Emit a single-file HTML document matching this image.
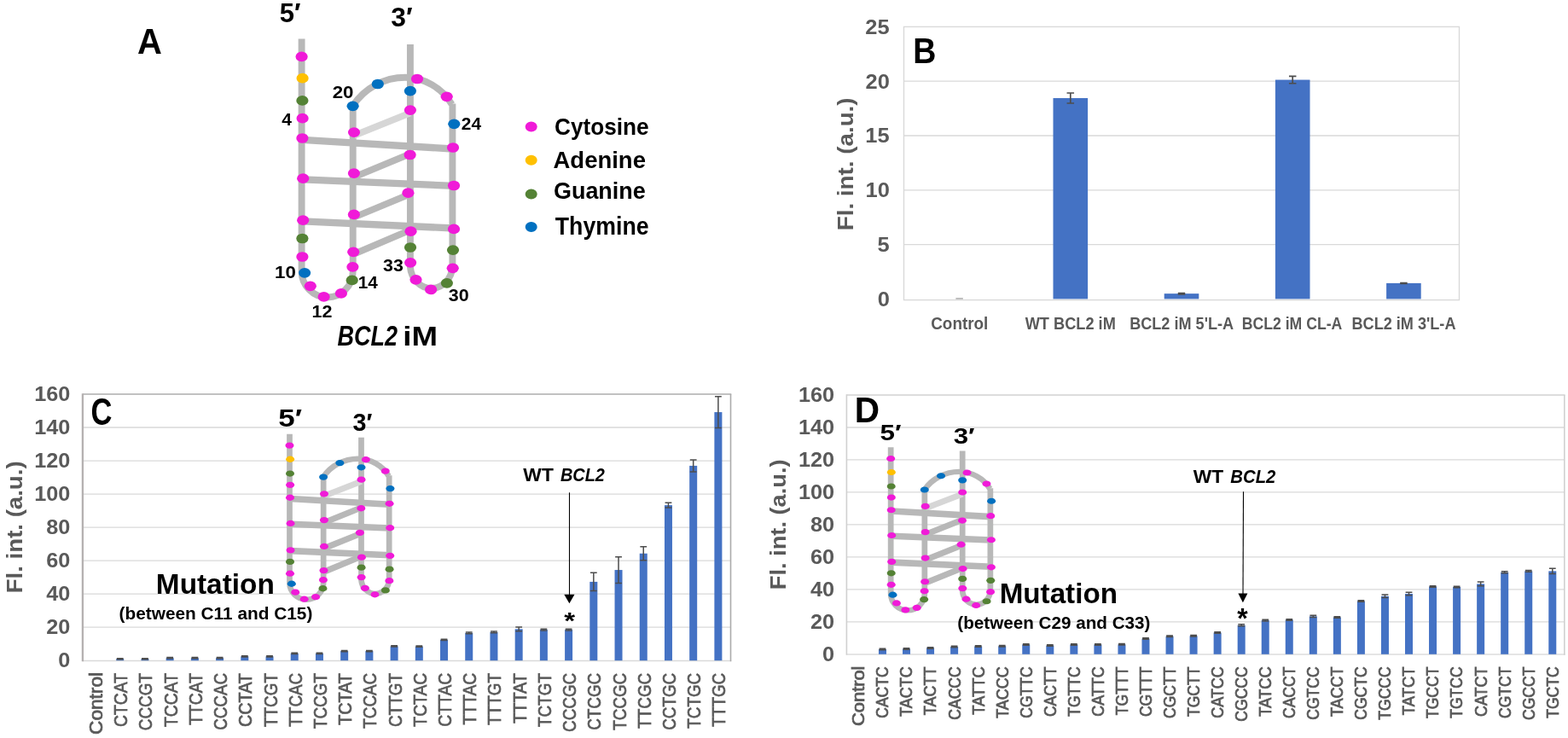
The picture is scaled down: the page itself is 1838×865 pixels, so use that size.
<!DOCTYPE html>
<html><head><meta charset="utf-8"><title>BCL2 iM figure</title>
<style>
html,body{margin:0;padding:0;background:#fff;overflow:hidden}
svg{display:block}
text{font-family:"Liberation Sans", Arial, sans-serif}
</style></head><body>
<svg width="1838" height="865" viewBox="0 0 1838 865">
<rect width="1838" height="865" fill="#fff"/>
<g transform="translate(0 0)"><path d="M 353.6 45.5 L 353.6 318 A 30 30.5 0 0 0 413.7 318 L 413.7 124.5 L 413.3 124.5 A 73.3 73.3 0 0 1 475 90.8 A 63.95 63.95 0 0 1 529.6 122.3" fill="none" stroke="#B8B8B8" stroke-width="7.9" stroke-linejoin="round"/><path d="M 530.4 121.5 L 530.4 313 A 24.85 27.5 0 0 1 480.9 313 L 480.9 52" fill="none" stroke="#B8B8B8" stroke-width="7.9"/><line x1="415" y1="158.9" x2="480.9" y2="132.4" stroke="#D6D6D6" stroke-width="7.719000000000001"/><line x1="354.4" y1="163.9" x2="530.6" y2="174.5" stroke="#B8B8B8" stroke-width="8.3"/><line x1="355.2" y1="210.4" x2="532" y2="217.9" stroke="#B8B8B8" stroke-width="8.3"/><line x1="355.2" y1="259.4" x2="532" y2="267.5" stroke="#B8B8B8" stroke-width="8.3"/><line x1="414.9" y1="207.6" x2="480.6" y2="180.4" stroke="#B8B8B8" stroke-width="7.719000000000001"/><line x1="414.9" y1="254.7" x2="478.4" y2="228.4" stroke="#B8B8B8" stroke-width="7.719000000000001"/><line x1="414" y1="298.1" x2="481.5" y2="269.4" stroke="#B8B8B8" stroke-width="7.719000000000001"/><ellipse cx="353.6" cy="66.4" rx="7.1" ry="5.85" fill="#F01AD8"/><ellipse cx="354.6" cy="91.7" rx="7.1" ry="5.85" fill="#FFC000"/><ellipse cx="354.4" cy="117.9" rx="7.1" ry="5.85" fill="#548235"/><ellipse cx="354.6" cy="138.7" rx="7.1" ry="5.85" fill="#F01AD8"/><ellipse cx="354.4" cy="162" rx="7.1" ry="5.85" fill="#F01AD8"/><ellipse cx="355.2" cy="209.2" rx="7.1" ry="5.85" fill="#F01AD8"/><ellipse cx="355.2" cy="258.2" rx="7.1" ry="5.85" fill="#F01AD8"/><ellipse cx="354.4" cy="279.5" rx="7.1" ry="5.85" fill="#548235"/><ellipse cx="354.4" cy="301" rx="7.1" ry="5.85" fill="#F01AD8"/><ellipse cx="357.1" cy="319.8" rx="7.1" ry="5.85" fill="#0070C0"/><ellipse cx="363.8" cy="335.3" rx="7.1" ry="5.85" fill="#F01AD8"/><ellipse cx="379.6" cy="347.9" rx="7.1" ry="5.85" fill="#F01AD8"/><ellipse cx="399.9" cy="343.9" rx="7.1" ry="5.85" fill="#F01AD8"/><ellipse cx="412.7" cy="328.4" rx="7.1" ry="5.85" fill="#548235"/><ellipse cx="413.4" cy="312.8" rx="7.1" ry="5.85" fill="#F01AD8"/><ellipse cx="414.2" cy="295.3" rx="7.1" ry="5.85" fill="#F01AD8"/><ellipse cx="414.9" cy="251.4" rx="7.1" ry="5.85" fill="#F01AD8"/><ellipse cx="414.9" cy="203.1" rx="7.1" ry="5.85" fill="#F01AD8"/><ellipse cx="415" cy="155.1" rx="7.1" ry="5.85" fill="#F01AD8"/><ellipse cx="413.6" cy="124.3" rx="7.1" ry="5.85" fill="#0070C0"/><ellipse cx="442.8" cy="98.5" rx="7.1" ry="5.85" fill="#0070C0"/><ellipse cx="489" cy="92.5" rx="7.1" ry="5.85" fill="#F01AD8"/><ellipse cx="523.7" cy="113.3" rx="7.1" ry="5.85" fill="#F01AD8"/><ellipse cx="532.3" cy="145.3" rx="7.1" ry="5.85" fill="#0070C0"/><ellipse cx="531" cy="173" rx="7.1" ry="5.85" fill="#F01AD8"/><ellipse cx="532" cy="217.5" rx="7.1" ry="5.85" fill="#F01AD8"/><ellipse cx="532" cy="268.4" rx="7.1" ry="5.85" fill="#F01AD8"/><ellipse cx="531" cy="293.1" rx="7.1" ry="5.85" fill="#548235"/><ellipse cx="530.7" cy="314.3" rx="7.1" ry="5.85" fill="#F01AD8"/><ellipse cx="523.9" cy="331.8" rx="7.1" ry="5.85" fill="#548235"/><ellipse cx="505.1" cy="339.4" rx="7.1" ry="5.85" fill="#F01AD8"/><ellipse cx="487.5" cy="327.8" rx="7.1" ry="5.85" fill="#F01AD8"/><ellipse cx="481.1" cy="307.8" rx="7.1" ry="5.85" fill="#F01AD8"/><ellipse cx="481" cy="290" rx="7.1" ry="5.85" fill="#548235"/><ellipse cx="481.5" cy="271.2" rx="7.1" ry="5.85" fill="#F01AD8"/><ellipse cx="478.4" cy="226.2" rx="7.1" ry="5.85" fill="#F01AD8"/><ellipse cx="480.6" cy="181.5" rx="7.1" ry="5.85" fill="#F01AD8"/><ellipse cx="480.9" cy="129.1" rx="7.1" ry="5.85" fill="#F01AD8"/><ellipse cx="480.9" cy="106.6" rx="7.1" ry="5.85" fill="#0070C0"/></g>
<text x="160.91" y="63.2" font-size="42.44" font-weight="bold" textLength="28.85" lengthAdjust="spacingAndGlyphs">A</text>
<text x="327.65" y="25.5" font-size="32.12" font-weight="bold" textLength="24.7" lengthAdjust="spacingAndGlyphs">5′</text>
<text x="458.37" y="31" font-size="31.79" font-weight="bold" textLength="25.29" lengthAdjust="spacingAndGlyphs">3′</text>
<text x="330.18" y="147" font-size="19.62" font-weight="bold" textLength="11.73" lengthAdjust="spacingAndGlyphs">4</text>
<text x="389.73" y="114.5" font-size="19.91" font-weight="bold" textLength="24.79" lengthAdjust="spacingAndGlyphs">20</text>
<text x="540.88" y="152.4" font-size="19.76" font-weight="bold" textLength="23.24" lengthAdjust="spacingAndGlyphs">24</text>
<text x="322.09" y="326" font-size="19.91" font-weight="bold" textLength="24.82" lengthAdjust="spacingAndGlyphs">10</text>
<text x="419.69" y="338" font-size="20.34" font-weight="bold" textLength="23.12" lengthAdjust="spacingAndGlyphs">14</text>
<text x="365.45" y="372" font-size="20.48" font-weight="bold" textLength="23.92" lengthAdjust="spacingAndGlyphs">12</text>
<text x="449.01" y="317.6" font-size="19.76" font-weight="bold" textLength="23.76" lengthAdjust="spacingAndGlyphs">33</text>
<text x="525.71" y="353.2" font-size="19.76" font-weight="bold" textLength="23.87" lengthAdjust="spacingAndGlyphs">30</text>
<text x="395.43" y="404.7" font-size="32.7" font-weight="bold" font-style="italic" textLength="70.55" lengthAdjust="spacingAndGlyphs">BCL2</text>
<text x="472.34" y="404.7" font-size="31.98" font-weight="bold" textLength="40.71" lengthAdjust="spacingAndGlyphs">iM</text>
<ellipse cx="622.7" cy="148.5" rx="7.0" ry="6.0" fill="#F01AD8"/>
<text x="650.03" y="157.7" font-size="27.78" font-weight="bold" textLength="110.57" lengthAdjust="spacingAndGlyphs">Cytosine</text>
<ellipse cx="622.7" cy="187.8" rx="7.0" ry="6.0" fill="#FFC000"/>
<text x="648.52" y="196.6" font-size="28.2" font-weight="bold" textLength="108.42" lengthAdjust="spacingAndGlyphs">Adenine</text>
<ellipse cx="622.7" cy="227.4" rx="7.0" ry="6.0" fill="#548235"/>
<text x="649" y="233" font-size="27.5" font-weight="bold" textLength="107.72" lengthAdjust="spacingAndGlyphs">Guanine</text>
<ellipse cx="622.7" cy="265.9" rx="7.0" ry="6.0" fill="#0070C0"/>
<text x="650.8" y="275.3" font-size="28.63" font-weight="bold" textLength="109.81" lengthAdjust="spacingAndGlyphs">Thymine</text>
<line x1="1059.5" y1="286.6" x2="1710.5" y2="286.6" stroke="#D9D9D9" stroke-width="1.3"/>
<line x1="1059.5" y1="222.8" x2="1710.5" y2="222.8" stroke="#D9D9D9" stroke-width="1.3"/>
<line x1="1059.5" y1="159" x2="1710.5" y2="159" stroke="#D9D9D9" stroke-width="1.3"/>
<line x1="1059.5" y1="95.2" x2="1710.5" y2="95.2" stroke="#D9D9D9" stroke-width="1.3"/>
<rect x="1059.5" y="31.4" width="651" height="320.2" fill="none" stroke="#D9D9D9" stroke-width="1.4"/>
<text x="1028.79" y="358.7" font-size="23.77" font-weight="bold" fill="#595959" textLength="14.15" lengthAdjust="spacingAndGlyphs">0</text>
<text x="1028.46" y="294.9" font-size="23.77" font-weight="bold" fill="#595959" textLength="14.15" lengthAdjust="spacingAndGlyphs">5</text>
<text x="1014.64" y="231.1" font-size="23.77" font-weight="bold" fill="#595959" textLength="28.3" lengthAdjust="spacingAndGlyphs">10</text>
<text x="1014.3" y="167.3" font-size="23.77" font-weight="bold" fill="#595959" textLength="28.3" lengthAdjust="spacingAndGlyphs">15</text>
<text x="1014.64" y="103.5" font-size="23.77" font-weight="bold" fill="#595959" textLength="28.3" lengthAdjust="spacingAndGlyphs">20</text>
<text x="1014.3" y="39.7" font-size="23.77" font-weight="bold" fill="#595959" textLength="28.3" lengthAdjust="spacingAndGlyphs">25</text>
<text x="-1.86" y="0" font-size="25.73" font-weight="bold" fill="#595959" textLength="155.84" lengthAdjust="spacingAndGlyphs" transform="translate(999.5 268.4) rotate(-90)">Fl. int. (a.u.)</text>
<text x="1070.19" y="73.8" font-size="42.73" font-weight="bold" textLength="27.12" lengthAdjust="spacingAndGlyphs">B</text>
<rect x="1120.35" y="349.2" width="8.5" height="1.4" fill="#A6A6A6"/>
<rect x="1234.5" y="114.98" width="40.6" height="235.42" fill="#4472C4"/>
<path d="M 1250.55 108.98 H 1259.05 M 1250.55 120.98 H 1259.05 M 1254.8 108.98 V 120.98" stroke="#4D4D4D" stroke-width="1.7" fill="none"/>
<rect x="1364.7" y="344.15" width="40.6" height="6.25" fill="#4472C4"/>
<path d="M 1380.75 343.51 H 1389.25 M 1380.75 344.79 H 1389.25 M 1385 343.51 V 344.79" stroke="#4D4D4D" stroke-width="1.7" fill="none"/>
<rect x="1494.9" y="93.54" width="40.6" height="256.86" fill="#4472C4"/>
<path d="M 1510.95 89.33 H 1519.45 M 1510.95 97.75 H 1519.45 M 1515.2 89.33 V 97.75" stroke="#4D4D4D" stroke-width="1.7" fill="none"/>
<rect x="1625.1" y="331.9" width="40.6" height="18.5" fill="#4472C4"/>
<path d="M 1641.15 331.52 H 1649.65 M 1641.15 332.28 H 1649.65 M 1645.4 331.52 V 332.28" stroke="#4D4D4D" stroke-width="1.7" fill="none"/>
<text x="1091.23" y="385.5" font-size="20.05" font-weight="bold" fill="#595959" textLength="67.11" lengthAdjust="spacingAndGlyphs">Control</text>
<text x="1201.68" y="385.5" font-size="20.05" font-weight="bold" fill="#595959" textLength="106.14" lengthAdjust="spacingAndGlyphs">WT BCL2 iM</text>
<text x="1324.19" y="385.5" font-size="20.05" font-weight="bold" fill="#595959" textLength="121.89" lengthAdjust="spacingAndGlyphs">BCL2 iM 5'L-A</text>
<text x="1455.82" y="385.5" font-size="20.05" font-weight="bold" fill="#595959" textLength="117.44" lengthAdjust="spacingAndGlyphs">BCL2 iM CL-A</text>
<text x="1584.49" y="385.5" font-size="20.05" font-weight="bold" fill="#595959" textLength="121.99" lengthAdjust="spacingAndGlyphs">BCL2 iM 3'L-A</text>
<line x1="96.9" y1="735.18" x2="856.5" y2="735.18" stroke="#D9D9D9" stroke-width="1.3"/>
<line x1="96.9" y1="696.15" x2="856.5" y2="696.15" stroke="#D9D9D9" stroke-width="1.3"/>
<line x1="96.9" y1="657.12" x2="856.5" y2="657.12" stroke="#D9D9D9" stroke-width="1.3"/>
<line x1="96.9" y1="618.1" x2="856.5" y2="618.1" stroke="#D9D9D9" stroke-width="1.3"/>
<line x1="96.9" y1="579.08" x2="856.5" y2="579.08" stroke="#D9D9D9" stroke-width="1.3"/>
<line x1="96.9" y1="540.05" x2="856.5" y2="540.05" stroke="#D9D9D9" stroke-width="1.3"/>
<line x1="96.9" y1="501.02" x2="856.5" y2="501.02" stroke="#D9D9D9" stroke-width="1.3"/>
<line x1="96.9" y1="774.5" x2="857.25" y2="774.5" stroke="#D9D9D9" stroke-width="1.5"/>
<line x1="856.5" y1="462" x2="856.5" y2="775.2" stroke="#ABABAB" stroke-width="1.6"/>
<line x1="96.9" y1="462" x2="857.3" y2="462" stroke="#ADADAD" stroke-width="1.6"/>
<line x1="96.9" y1="461.2" x2="96.9" y2="775.2" stroke="#B4B1B1" stroke-width="2.3"/>
<text x="68.39" y="782.4" font-size="23.49" font-weight="bold" fill="#595959" textLength="14.05" lengthAdjust="spacingAndGlyphs">0</text>
<text x="54.34" y="743.38" font-size="23.49" font-weight="bold" fill="#595959" textLength="28.09" lengthAdjust="spacingAndGlyphs">20</text>
<text x="54.34" y="704.35" font-size="23.49" font-weight="bold" fill="#595959" textLength="28.09" lengthAdjust="spacingAndGlyphs">40</text>
<text x="54.34" y="665.33" font-size="23.49" font-weight="bold" fill="#595959" textLength="28.09" lengthAdjust="spacingAndGlyphs">60</text>
<text x="54.34" y="626.3" font-size="23.49" font-weight="bold" fill="#595959" textLength="28.09" lengthAdjust="spacingAndGlyphs">80</text>
<text x="40.29" y="587.28" font-size="23.49" font-weight="bold" fill="#595959" textLength="42.14" lengthAdjust="spacingAndGlyphs">100</text>
<text x="40.29" y="548.25" font-size="23.49" font-weight="bold" fill="#595959" textLength="42.14" lengthAdjust="spacingAndGlyphs">120</text>
<text x="40.29" y="509.22" font-size="23.49" font-weight="bold" fill="#595959" textLength="42.14" lengthAdjust="spacingAndGlyphs">140</text>
<text x="40.29" y="470.2" font-size="23.49" font-weight="bold" fill="#595959" textLength="42.14" lengthAdjust="spacingAndGlyphs">160</text>
<text x="-1.85" y="0" font-size="25.73" font-weight="bold" fill="#595959" textLength="154.82" lengthAdjust="spacingAndGlyphs" transform="translate(25.6 693.4) rotate(-90)">Fl. int. (a.u.)</text>
<text x="106.38" y="498.1" font-size="44.11" font-weight="bold" textLength="24.96" lengthAdjust="spacingAndGlyphs">C</text>
<text x="-1.15" y="0" font-size="21.77" fill="#595959" textLength="72.96" lengthAdjust="spacingAndGlyphs" transform="translate(120.01 859.8) rotate(-90)" stroke="#595959" stroke-width="0.75">Control</text>
<rect x="136.22" y="772.25" width="9" height="1.95" fill="#4472C4"/>
<path d="M 136.82 771.76 H 144.62 M 136.82 772.74 H 144.62 M 140.72 771.76 V 772.74" stroke="#4D4D4D" stroke-width="1.5" fill="none"/>
<text x="-0.96" y="0" font-size="21.77" fill="#595959" textLength="62.89" lengthAdjust="spacingAndGlyphs" transform="translate(149.22 851) rotate(-90)" stroke="#595959" stroke-width="0.75">CTCAT</text>
<rect x="165.44" y="772.25" width="9" height="1.95" fill="#4472C4"/>
<path d="M 166.04 771.76 H 173.84 M 166.04 772.74 H 173.84 M 169.94 771.76 V 772.74" stroke="#4D4D4D" stroke-width="1.5" fill="none"/>
<text x="-0.96" y="0" font-size="21.77" fill="#595959" textLength="67.08" lengthAdjust="spacingAndGlyphs" transform="translate(178.44 855.19) rotate(-90)" stroke="#595959" stroke-width="0.75">CCCGT</text>
<rect x="194.65" y="771.18" width="9" height="3.02" fill="#4472C4"/>
<path d="M 195.25 770.49 H 203.05 M 195.25 771.86 H 203.05 M 199.15 770.49 V 771.86" stroke="#4D4D4D" stroke-width="1.5" fill="none"/>
<text x="-0.42" y="0" font-size="21.77" fill="#595959" textLength="62.89" lengthAdjust="spacingAndGlyphs" transform="translate(207.65 851.53) rotate(-90)" stroke="#595959" stroke-width="0.75">TCCAT</text>
<rect x="223.87" y="771.18" width="9" height="3.02" fill="#4472C4"/>
<path d="M 224.47 770.49 H 232.27 M 224.47 771.86 H 232.27 M 228.37 770.49 V 771.86" stroke="#4D4D4D" stroke-width="1.5" fill="none"/>
<text x="-0.42" y="0" font-size="21.77" fill="#595959" textLength="60.79" lengthAdjust="spacingAndGlyphs" transform="translate(236.87 849.43) rotate(-90)" stroke="#595959" stroke-width="0.75">TTCAT</text>
<rect x="253.08" y="771.18" width="9" height="3.02" fill="#4472C4"/>
<path d="M 253.68 770.49 H 261.48 M 253.68 771.86 H 261.48 M 257.58 770.49 V 771.86" stroke="#4D4D4D" stroke-width="1.5" fill="none"/>
<text x="-0.96" y="0" font-size="21.77" fill="#595959" textLength="67.09" lengthAdjust="spacingAndGlyphs" transform="translate(266.08 854.92) rotate(-90)" stroke="#595959" stroke-width="0.75">CCCAC</text>
<rect x="282.3" y="769.32" width="9" height="4.88" fill="#4472C4"/>
<path d="M 282.9 768.64 H 290.7 M 282.9 770 H 290.7 M 286.8 768.64 V 770" stroke="#4D4D4D" stroke-width="1.5" fill="none"/>
<text x="-0.96" y="0" font-size="21.77" fill="#595959" textLength="62.89" lengthAdjust="spacingAndGlyphs" transform="translate(295.3 851) rotate(-90)" stroke="#595959" stroke-width="0.75">CCTAT</text>
<rect x="311.52" y="769.32" width="9" height="4.88" fill="#4472C4"/>
<path d="M 312.12 768.64 H 319.92 M 312.12 770 H 319.92 M 316.02 768.64 V 770" stroke="#4D4D4D" stroke-width="1.5" fill="none"/>
<text x="-0.42" y="0" font-size="21.77" fill="#595959" textLength="62.88" lengthAdjust="spacingAndGlyphs" transform="translate(324.52 851.53) rotate(-90)" stroke="#595959" stroke-width="0.75">TTCGT</text>
<rect x="340.73" y="765.81" width="9" height="8.39" fill="#4472C4"/>
<path d="M 341.33 765.13 H 349.13 M 341.33 766.49 H 349.13 M 345.23 765.13 V 766.49" stroke="#4D4D4D" stroke-width="1.5" fill="none"/>
<text x="-0.42" y="0" font-size="21.77" fill="#595959" textLength="62.89" lengthAdjust="spacingAndGlyphs" transform="translate(353.73 851.25) rotate(-90)" stroke="#595959" stroke-width="0.75">TTCAC</text>
<rect x="369.95" y="765.81" width="9" height="8.39" fill="#4472C4"/>
<path d="M 370.55 765.13 H 378.35 M 370.55 766.49 H 378.35 M 374.45 765.13 V 766.49" stroke="#4D4D4D" stroke-width="1.5" fill="none"/>
<text x="-0.42" y="0" font-size="21.77" fill="#595959" textLength="64.98" lengthAdjust="spacingAndGlyphs" transform="translate(382.95 853.63) rotate(-90)" stroke="#595959" stroke-width="0.75">TCCGT</text>
<rect x="399.16" y="763.08" width="9" height="11.12" fill="#4472C4"/>
<path d="M 399.76 762.39 H 407.56 M 399.76 763.76 H 407.56 M 403.66 762.39 V 763.76" stroke="#4D4D4D" stroke-width="1.5" fill="none"/>
<text x="-0.42" y="0" font-size="21.77" fill="#595959" textLength="60.79" lengthAdjust="spacingAndGlyphs" transform="translate(412.16 849.43) rotate(-90)" stroke="#595959" stroke-width="0.75">TCTAT</text>
<rect x="428.38" y="763.08" width="9" height="11.12" fill="#4472C4"/>
<path d="M 428.98 762.39 H 436.78 M 428.98 763.76 H 436.78 M 432.88 762.39 V 763.76" stroke="#4D4D4D" stroke-width="1.5" fill="none"/>
<text x="-0.42" y="0" font-size="21.77" fill="#595959" textLength="64.99" lengthAdjust="spacingAndGlyphs" transform="translate(441.38 853.35) rotate(-90)" stroke="#595959" stroke-width="0.75">TCCAC</text>
<rect x="457.59" y="757.42" width="9" height="16.78" fill="#4472C4"/>
<path d="M 458.19 756.74 H 465.99 M 458.19 758.1 H 465.99 M 462.09 756.74 V 758.1" stroke="#4D4D4D" stroke-width="1.5" fill="none"/>
<text x="-0.96" y="0" font-size="21.77" fill="#595959" textLength="62.88" lengthAdjust="spacingAndGlyphs" transform="translate(470.59 850.99) rotate(-90)" stroke="#595959" stroke-width="0.75">CTTGT</text>
<rect x="486.81" y="757.61" width="9" height="16.59" fill="#4472C4"/>
<path d="M 487.41 756.93 H 495.21 M 487.41 758.3 H 495.21 M 491.31 756.93 V 758.3" stroke="#4D4D4D" stroke-width="1.5" fill="none"/>
<text x="-0.42" y="0" font-size="21.77" fill="#595959" textLength="62.89" lengthAdjust="spacingAndGlyphs" transform="translate(499.81 851.25) rotate(-90)" stroke="#595959" stroke-width="0.75">TCTAC</text>
<rect x="516.02" y="749.81" width="9" height="24.39" fill="#4472C4"/>
<path d="M 516.62 749.13 H 524.42 M 516.62 750.49 H 524.42 M 520.52 749.13 V 750.49" stroke="#4D4D4D" stroke-width="1.5" fill="none"/>
<text x="-0.96" y="0" font-size="21.77" fill="#595959" textLength="62.89" lengthAdjust="spacingAndGlyphs" transform="translate(529.02 850.71) rotate(-90)" stroke="#595959" stroke-width="0.75">CTTAC</text>
<rect x="545.24" y="741.81" width="9" height="32.39" fill="#4472C4"/>
<path d="M 545.84 740.93 H 553.64 M 545.84 742.69 H 553.64 M 549.74 740.93 V 742.69" stroke="#4D4D4D" stroke-width="1.5" fill="none"/>
<text x="-0.42" y="0" font-size="21.77" fill="#595959" textLength="60.79" lengthAdjust="spacingAndGlyphs" transform="translate(558.24 849.15) rotate(-90)" stroke="#595959" stroke-width="0.75">TTTAC</text>
<rect x="574.45" y="740.83" width="9" height="33.37" fill="#4472C4"/>
<path d="M 575.05 739.96 H 582.85 M 575.05 741.71 H 582.85 M 578.95 739.96 V 741.71" stroke="#4D4D4D" stroke-width="1.5" fill="none"/>
<text x="-0.42" y="0" font-size="21.77" fill="#595959" textLength="60.78" lengthAdjust="spacingAndGlyphs" transform="translate(587.45 849.42) rotate(-90)" stroke="#595959" stroke-width="0.75">TTTGT</text>
<rect x="603.67" y="737.32" width="9" height="36.88" fill="#4472C4"/>
<path d="M 604.27 734.98 H 612.07 M 604.27 739.66 H 612.07 M 608.17 734.98 V 739.66" stroke="#4D4D4D" stroke-width="1.5" fill="none"/>
<text x="-0.42" y="0" font-size="21.77" fill="#595959" textLength="58.69" lengthAdjust="spacingAndGlyphs" transform="translate(616.67 847.33) rotate(-90)" stroke="#595959" stroke-width="0.75">TTTAT</text>
<rect x="632.88" y="738.1" width="9" height="36.1" fill="#4472C4"/>
<path d="M 633.48 737.22 H 641.28 M 633.48 738.98 H 641.28 M 637.38 737.22 V 738.98" stroke="#4D4D4D" stroke-width="1.5" fill="none"/>
<text x="-0.42" y="0" font-size="21.77" fill="#595959" textLength="62.88" lengthAdjust="spacingAndGlyphs" transform="translate(645.88 851.53) rotate(-90)" stroke="#595959" stroke-width="0.75">TCTGT</text>
<rect x="662.1" y="738.1" width="9" height="36.1" fill="#4472C4"/>
<path d="M 662.7 737.22 H 670.5 M 662.7 738.98 H 670.5 M 666.6 737.22 V 738.98" stroke="#4D4D4D" stroke-width="1.5" fill="none"/>
<text x="-0.96" y="0" font-size="21.77" fill="#595959" textLength="69.18" lengthAdjust="spacingAndGlyphs" transform="translate(675.1 857.01) rotate(-90)" stroke="#595959" stroke-width="0.75">CCCGC</text>
<rect x="691.32" y="681.91" width="9" height="92.29" fill="#4472C4"/>
<path d="M 691.92 671.37 H 699.72 M 691.92 692.44 H 699.72 M 695.82 671.37 V 692.44" stroke="#4D4D4D" stroke-width="1.5" fill="none"/>
<text x="-0.96" y="0" font-size="21.77" fill="#595959" textLength="67.08" lengthAdjust="spacingAndGlyphs" transform="translate(704.32 854.91) rotate(-90)" stroke="#595959" stroke-width="0.75">CTCGC</text>
<rect x="720.53" y="668.05" width="9" height="106.15" fill="#4472C4"/>
<path d="M 721.13 652.64 H 728.93 M 721.13 683.47 H 728.93 M 725.03 652.64 V 683.47" stroke="#4D4D4D" stroke-width="1.5" fill="none"/>
<text x="-0.42" y="0" font-size="21.77" fill="#595959" textLength="67.08" lengthAdjust="spacingAndGlyphs" transform="translate(733.53 855.44) rotate(-90)" stroke="#595959" stroke-width="0.75">TCCGC</text>
<rect x="749.75" y="648.73" width="9" height="125.47" fill="#4472C4"/>
<path d="M 750.35 640.73 H 758.15 M 750.35 656.73 H 758.15 M 754.25 640.73 V 656.73" stroke="#4D4D4D" stroke-width="1.5" fill="none"/>
<text x="-0.42" y="0" font-size="21.77" fill="#595959" textLength="64.98" lengthAdjust="spacingAndGlyphs" transform="translate(762.75 853.34) rotate(-90)" stroke="#595959" stroke-width="0.75">TTCGC</text>
<rect x="778.96" y="592.15" width="9" height="182.05" fill="#4472C4"/>
<path d="M 779.56 589.22 H 787.36 M 779.56 595.08 H 787.36 M 783.46 589.22 V 595.08" stroke="#4D4D4D" stroke-width="1.5" fill="none"/>
<text x="-0.96" y="0" font-size="21.77" fill="#595959" textLength="67.08" lengthAdjust="spacingAndGlyphs" transform="translate(791.96 854.91) rotate(-90)" stroke="#595959" stroke-width="0.75">CCTGC</text>
<rect x="808.18" y="545.9" width="9" height="228.3" fill="#4472C4"/>
<path d="M 808.78 538.88 H 816.58 M 808.78 552.93 H 816.58 M 812.68 538.88 V 552.93" stroke="#4D4D4D" stroke-width="1.5" fill="none"/>
<text x="-0.42" y="0" font-size="21.77" fill="#595959" textLength="64.98" lengthAdjust="spacingAndGlyphs" transform="translate(821.18 853.34) rotate(-90)" stroke="#595959" stroke-width="0.75">TCTGC</text>
<rect x="837.39" y="483.07" width="9" height="291.13" fill="#4472C4"/>
<path d="M 837.99 464.73 H 845.79 M 837.99 501.42 H 845.79 M 841.89 464.73 V 501.42" stroke="#4D4D4D" stroke-width="1.5" fill="none"/>
<text x="-0.42" y="0" font-size="21.77" fill="#595959" textLength="62.88" lengthAdjust="spacingAndGlyphs" transform="translate(850.39 851.24) rotate(-90)" stroke="#595959" stroke-width="0.75">TTTGC</text>
<g transform="matrix(0.66 0 0 0.64 106.1 479.57)"><path d="M 353.6 45.5 L 353.6 318 A 30 30.5 0 0 0 413.7 318 L 413.7 124.5 L 413.3 124.5 A 73.3 73.3 0 0 1 475 90.8 A 63.95 63.95 0 0 1 529.6 122.3" fill="none" stroke="#B8B8B8" stroke-width="10.2" stroke-linejoin="round"/><path d="M 530.4 121.5 L 530.4 313 A 24.85 27.5 0 0 1 480.9 313 L 480.9 52" fill="none" stroke="#B8B8B8" stroke-width="10.2"/><line x1="415" y1="158.9" x2="480.9" y2="132.4" stroke="#D6D6D6" stroke-width="11.16"/><line x1="354.4" y1="163.9" x2="530.6" y2="174.5" stroke="#B8B8B8" stroke-width="12"/><line x1="355.2" y1="210.4" x2="532" y2="217.9" stroke="#B8B8B8" stroke-width="12"/><line x1="355.2" y1="259.4" x2="532" y2="267.5" stroke="#B8B8B8" stroke-width="12"/><line x1="414.9" y1="207.6" x2="480.6" y2="180.4" stroke="#B8B8B8" stroke-width="11.16"/><line x1="414.9" y1="254.7" x2="478.4" y2="228.4" stroke="#B8B8B8" stroke-width="11.16"/><line x1="414" y1="298.1" x2="481.5" y2="269.4" stroke="#B8B8B8" stroke-width="11.16"/><ellipse cx="353.6" cy="66.4" rx="7.6" ry="5.7" fill="#F01AD8"/><ellipse cx="354.6" cy="91.7" rx="7.6" ry="5.7" fill="#FFC000"/><ellipse cx="354.4" cy="117.9" rx="7.6" ry="5.7" fill="#548235"/><ellipse cx="354.6" cy="138.7" rx="7.6" ry="5.7" fill="#F01AD8"/><ellipse cx="354.4" cy="162" rx="7.6" ry="5.7" fill="#F01AD8"/><ellipse cx="355.2" cy="209.2" rx="7.6" ry="5.7" fill="#F01AD8"/><ellipse cx="355.2" cy="258.2" rx="7.6" ry="5.7" fill="#F01AD8"/><ellipse cx="354.4" cy="279.5" rx="7.6" ry="5.7" fill="#548235"/><ellipse cx="354.4" cy="301" rx="7.6" ry="5.7" fill="#F01AD8"/><ellipse cx="357.1" cy="319.8" rx="7.6" ry="5.7" fill="#0070C0"/><ellipse cx="363.8" cy="335.3" rx="7.6" ry="5.7" fill="#F01AD8"/><ellipse cx="379.6" cy="347.9" rx="7.6" ry="5.7" fill="#F01AD8"/><ellipse cx="399.9" cy="343.9" rx="7.6" ry="5.7" fill="#F01AD8"/><ellipse cx="412.7" cy="328.4" rx="7.6" ry="5.7" fill="#548235"/><ellipse cx="413.4" cy="312.8" rx="7.6" ry="5.7" fill="#F01AD8"/><ellipse cx="414.2" cy="295.3" rx="7.6" ry="5.7" fill="#F01AD8"/><ellipse cx="414.9" cy="251.4" rx="7.6" ry="5.7" fill="#F01AD8"/><ellipse cx="414.9" cy="203.1" rx="7.6" ry="5.7" fill="#F01AD8"/><ellipse cx="415" cy="155.1" rx="7.6" ry="5.7" fill="#F01AD8"/><ellipse cx="413.6" cy="124.3" rx="7.6" ry="5.7" fill="#0070C0"/><ellipse cx="442.8" cy="98.5" rx="7.6" ry="5.7" fill="#0070C0"/><ellipse cx="489" cy="92.5" rx="7.6" ry="5.7" fill="#F01AD8"/><ellipse cx="523.7" cy="113.3" rx="7.6" ry="5.7" fill="#F01AD8"/><ellipse cx="532.3" cy="145.3" rx="7.6" ry="5.7" fill="#0070C0"/><ellipse cx="531" cy="173" rx="7.6" ry="5.7" fill="#F01AD8"/><ellipse cx="532" cy="217.5" rx="7.6" ry="5.7" fill="#F01AD8"/><ellipse cx="532" cy="268.4" rx="7.6" ry="5.7" fill="#F01AD8"/><ellipse cx="531" cy="293.1" rx="7.6" ry="5.7" fill="#548235"/><ellipse cx="530.7" cy="314.3" rx="7.6" ry="5.7" fill="#F01AD8"/><ellipse cx="523.9" cy="331.8" rx="7.6" ry="5.7" fill="#548235"/><ellipse cx="505.1" cy="339.4" rx="7.6" ry="5.7" fill="#F01AD8"/><ellipse cx="487.5" cy="327.8" rx="7.6" ry="5.7" fill="#F01AD8"/><ellipse cx="481.1" cy="307.8" rx="7.6" ry="5.7" fill="#F01AD8"/><ellipse cx="481" cy="290" rx="7.6" ry="5.7" fill="#548235"/><ellipse cx="481.5" cy="271.2" rx="7.6" ry="5.7" fill="#F01AD8"/><ellipse cx="478.4" cy="226.2" rx="7.6" ry="5.7" fill="#F01AD8"/><ellipse cx="480.6" cy="181.5" rx="7.6" ry="5.7" fill="#F01AD8"/><ellipse cx="480.9" cy="129.1" rx="7.6" ry="5.7" fill="#F01AD8"/><ellipse cx="480.9" cy="106.6" rx="7.6" ry="5.7" fill="#0070C0"/></g>
<text x="326.33" y="500.3" font-size="29.36" font-weight="bold" textLength="27.79" lengthAdjust="spacingAndGlyphs">5′</text>
<text x="413.44" y="504.7" font-size="29.07" font-weight="bold" textLength="22.86" lengthAdjust="spacingAndGlyphs">3′</text>
<text x="613.38" y="563.9" font-size="22.53" font-weight="bold" textLength="35.47" lengthAdjust="spacingAndGlyphs">WT</text>
<text x="656.95" y="563.9" font-size="22.53" font-weight="bold" font-style="italic" textLength="51.95" lengthAdjust="spacingAndGlyphs">BCL2</text>
<line x1="667.5" y1="577.3" x2="667.5" y2="697.8" stroke="#000" stroke-width="1.1"/>
<path d="M 661.3 696.8 L 673.5 696.8 L 667.4 707.3 Z" fill="#000"/>
<text x="661.2" y="736.75" font-size="27.68" font-weight="bold" textLength="12.83" lengthAdjust="spacingAndGlyphs">*</text>
<text x="182.87" y="695.6" font-size="32.99" font-weight="bold" textLength="138.9" lengthAdjust="spacingAndGlyphs">Mutation</text>
<text x="139.57" y="726.4" font-size="20.05" font-weight="bold" textLength="226.76" lengthAdjust="spacingAndGlyphs">(between C11 and C15)</text>
<line x1="992.4" y1="728.82" x2="1833.8" y2="728.82" stroke="#D9D9D9" stroke-width="1.3"/>
<line x1="992.4" y1="690.85" x2="1833.8" y2="690.85" stroke="#D9D9D9" stroke-width="1.3"/>
<line x1="992.4" y1="652.88" x2="1833.8" y2="652.88" stroke="#D9D9D9" stroke-width="1.3"/>
<line x1="992.4" y1="614.9" x2="1833.8" y2="614.9" stroke="#D9D9D9" stroke-width="1.3"/>
<line x1="992.4" y1="576.92" x2="1833.8" y2="576.92" stroke="#D9D9D9" stroke-width="1.3"/>
<line x1="992.4" y1="538.95" x2="1833.8" y2="538.95" stroke="#D9D9D9" stroke-width="1.3"/>
<line x1="992.4" y1="500.98" x2="1833.8" y2="500.98" stroke="#D9D9D9" stroke-width="1.3"/>
<line x1="992.4" y1="767.1" x2="1834.55" y2="767.1" stroke="#DCDCDC" stroke-width="1.5"/>
<line x1="1833.8" y1="463" x2="1833.8" y2="767.8" stroke="#D0D0D0" stroke-width="1.6"/>
<line x1="992.4" y1="463" x2="1834.6" y2="463" stroke="#D2D2D2" stroke-width="1.6"/>
<line x1="992.4" y1="462.2" x2="992.4" y2="767.8" stroke="#D0D0D0" stroke-width="1.6"/>
<text x="964.07" y="775.05" font-size="23.63" font-weight="bold" fill="#595959" textLength="14.07" lengthAdjust="spacingAndGlyphs">0</text>
<text x="950" y="737.07" font-size="23.63" font-weight="bold" fill="#595959" textLength="28.13" lengthAdjust="spacingAndGlyphs">20</text>
<text x="950" y="699.1" font-size="23.63" font-weight="bold" fill="#595959" textLength="28.13" lengthAdjust="spacingAndGlyphs">40</text>
<text x="950" y="661.12" font-size="23.63" font-weight="bold" fill="#595959" textLength="28.13" lengthAdjust="spacingAndGlyphs">60</text>
<text x="950" y="623.15" font-size="23.63" font-weight="bold" fill="#595959" textLength="28.13" lengthAdjust="spacingAndGlyphs">80</text>
<text x="935.94" y="585.17" font-size="23.63" font-weight="bold" fill="#595959" textLength="42.2" lengthAdjust="spacingAndGlyphs">100</text>
<text x="935.94" y="547.2" font-size="23.63" font-weight="bold" fill="#595959" textLength="42.2" lengthAdjust="spacingAndGlyphs">120</text>
<text x="935.94" y="509.23" font-size="23.63" font-weight="bold" fill="#595959" textLength="42.2" lengthAdjust="spacingAndGlyphs">140</text>
<text x="935.94" y="471.25" font-size="23.63" font-weight="bold" fill="#595959" textLength="42.2" lengthAdjust="spacingAndGlyphs">160</text>
<text x="-1.82" y="0" font-size="25.73" font-weight="bold" fill="#595959" textLength="152.78" lengthAdjust="spacingAndGlyphs" transform="translate(920.6 689.4) rotate(-90)">Fl. int. (a.u.)</text>
<text x="1001.78" y="495.3" font-size="42.15" font-weight="bold" textLength="29.32" lengthAdjust="spacingAndGlyphs">D</text>
<text x="-1.11" y="0" font-size="19.76" fill="#595959" textLength="70.37" lengthAdjust="spacingAndGlyphs" transform="translate(1013.32 849.8) rotate(-90)" stroke="#595959" stroke-width="0.75">Control</text>
<rect x="1029.97" y="760.99" width="9" height="5.81" fill="#4472C4"/>
<path d="M 1030.57 760.23 H 1038.37 M 1030.57 761.75 H 1038.37 M 1034.47 760.23 V 761.75" stroke="#4D4D4D" stroke-width="1.5" fill="none"/>
<text x="-0.89" y="0" font-size="19.76" fill="#595959" textLength="60.46" lengthAdjust="spacingAndGlyphs" transform="translate(1041.37 840.9) rotate(-90)" stroke="#595959" stroke-width="0.75">CACTC</text>
<rect x="1058.02" y="760.53" width="9" height="6.27" fill="#4472C4"/>
<path d="M 1058.62 759.77 H 1066.42 M 1058.62 761.29 H 1066.42 M 1062.52 759.77 V 761.29" stroke="#4D4D4D" stroke-width="1.5" fill="none"/>
<text x="-0.39" y="0" font-size="19.76" fill="#595959" textLength="58.51" lengthAdjust="spacingAndGlyphs" transform="translate(1069.42 839.44) rotate(-90)" stroke="#595959" stroke-width="0.75">TACTC</text>
<rect x="1086.06" y="759.39" width="9" height="7.41" fill="#4472C4"/>
<path d="M 1086.66 758.64 H 1094.46 M 1086.66 760.15 H 1094.46 M 1090.56 758.64 V 760.15" stroke="#4D4D4D" stroke-width="1.5" fill="none"/>
<text x="-0.39" y="0" font-size="19.76" fill="#595959" textLength="56.55" lengthAdjust="spacingAndGlyphs" transform="translate(1097.46 837.75) rotate(-90)" stroke="#595959" stroke-width="0.75">TACTT</text>
<rect x="1114.11" y="758.07" width="9" height="8.73" fill="#4472C4"/>
<path d="M 1114.71 757.31 H 1122.51 M 1114.71 758.83 H 1122.51 M 1118.61 757.31 V 758.83" stroke="#4D4D4D" stroke-width="1.5" fill="none"/>
<text x="-0.89" y="0" font-size="19.76" fill="#595959" textLength="62.41" lengthAdjust="spacingAndGlyphs" transform="translate(1125.51 842.85) rotate(-90)" stroke="#595959" stroke-width="0.75">CACCC</text>
<rect x="1142.16" y="757.5" width="9" height="9.3" fill="#4472C4"/>
<path d="M 1142.76 756.74 H 1150.56 M 1142.76 758.26 H 1150.56 M 1146.66 756.74 V 758.26" stroke="#4D4D4D" stroke-width="1.5" fill="none"/>
<text x="-0.39" y="0" font-size="19.76" fill="#595959" textLength="56.55" lengthAdjust="spacingAndGlyphs" transform="translate(1153.56 837.49) rotate(-90)" stroke="#595959" stroke-width="0.75">TATTC</text>
<rect x="1170.2" y="757.31" width="9" height="9.49" fill="#4472C4"/>
<path d="M 1170.8 756.55 H 1178.6 M 1170.8 758.07 H 1178.6 M 1174.7 756.55 V 758.07" stroke="#4D4D4D" stroke-width="1.5" fill="none"/>
<text x="-0.39" y="0" font-size="19.76" fill="#595959" textLength="60.46" lengthAdjust="spacingAndGlyphs" transform="translate(1181.6 841.4) rotate(-90)" stroke="#595959" stroke-width="0.75">TACCC</text>
<rect x="1198.25" y="755.41" width="9" height="11.39" fill="#4472C4"/>
<path d="M 1198.85 754.65 H 1206.65 M 1198.85 756.17 H 1206.65 M 1202.75 754.65 V 756.17" stroke="#4D4D4D" stroke-width="1.5" fill="none"/>
<text x="-0.89" y="0" font-size="19.76" fill="#595959" textLength="60.45" lengthAdjust="spacingAndGlyphs" transform="translate(1209.65 840.89) rotate(-90)" stroke="#595959" stroke-width="0.75">CGTTC</text>
<rect x="1226.3" y="756.55" width="9" height="10.25" fill="#4472C4"/>
<path d="M 1226.9 755.79 H 1234.7 M 1226.9 757.31 H 1234.7 M 1230.8 755.79 V 757.31" stroke="#4D4D4D" stroke-width="1.5" fill="none"/>
<text x="-0.89" y="0" font-size="19.76" fill="#595959" textLength="58.51" lengthAdjust="spacingAndGlyphs" transform="translate(1237.7 839.21) rotate(-90)" stroke="#595959" stroke-width="0.75">CACTT</text>
<rect x="1254.34" y="755.41" width="9" height="11.39" fill="#4472C4"/>
<path d="M 1254.94 754.65 H 1262.74 M 1254.94 756.17 H 1262.74 M 1258.84 754.65 V 756.17" stroke="#4D4D4D" stroke-width="1.5" fill="none"/>
<text x="-0.39" y="0" font-size="19.76" fill="#595959" textLength="58.5" lengthAdjust="spacingAndGlyphs" transform="translate(1265.74 839.43) rotate(-90)" stroke="#595959" stroke-width="0.75">TGTTC</text>
<rect x="1282.39" y="755.41" width="9" height="11.39" fill="#4472C4"/>
<path d="M 1282.99 754.65 H 1290.79 M 1282.99 756.17 H 1290.79 M 1286.89 754.65 V 756.17" stroke="#4D4D4D" stroke-width="1.5" fill="none"/>
<text x="-0.89" y="0" font-size="19.76" fill="#595959" textLength="58.51" lengthAdjust="spacingAndGlyphs" transform="translate(1293.79 838.95) rotate(-90)" stroke="#595959" stroke-width="0.75">CATTC</text>
<rect x="1310.44" y="755.31" width="9" height="11.49" fill="#4472C4"/>
<path d="M 1311.04 754.55 H 1318.84 M 1311.04 756.07 H 1318.84 M 1314.94 754.55 V 756.07" stroke="#4D4D4D" stroke-width="1.5" fill="none"/>
<text x="-0.39" y="0" font-size="19.76" fill="#595959" textLength="56.54" lengthAdjust="spacingAndGlyphs" transform="translate(1321.84 837.75) rotate(-90)" stroke="#595959" stroke-width="0.75">TGTTT</text>
<rect x="1338.48" y="748.57" width="9" height="18.23" fill="#4472C4"/>
<path d="M 1339.08 747.81 H 1346.88 M 1339.08 749.33 H 1346.88 M 1342.98 747.81 V 749.33" stroke="#4D4D4D" stroke-width="1.5" fill="none"/>
<text x="-0.89" y="0" font-size="19.76" fill="#595959" textLength="58.5" lengthAdjust="spacingAndGlyphs" transform="translate(1349.88 839.2) rotate(-90)" stroke="#595959" stroke-width="0.75">CGTTT</text>
<rect x="1366.53" y="745.72" width="9" height="21.08" fill="#4472C4"/>
<path d="M 1367.13 744.96 H 1374.93 M 1367.13 746.48 H 1374.93 M 1371.03 744.96 V 746.48" stroke="#4D4D4D" stroke-width="1.5" fill="none"/>
<text x="-0.89" y="0" font-size="19.76" fill="#595959" textLength="60.45" lengthAdjust="spacingAndGlyphs" transform="translate(1377.93 841.16) rotate(-90)" stroke="#595959" stroke-width="0.75">CGCTT</text>
<rect x="1394.58" y="745.34" width="9" height="21.46" fill="#4472C4"/>
<path d="M 1395.18 744.58 H 1402.98 M 1395.18 746.1 H 1402.98 M 1399.08 744.58 V 746.1" stroke="#4D4D4D" stroke-width="1.5" fill="none"/>
<text x="-0.39" y="0" font-size="19.76" fill="#595959" textLength="58.5" lengthAdjust="spacingAndGlyphs" transform="translate(1405.98 839.7) rotate(-90)" stroke="#595959" stroke-width="0.75">TGCTT</text>
<rect x="1422.62" y="741.55" width="9" height="25.25" fill="#4472C4"/>
<path d="M 1423.22 740.79 H 1431.02 M 1423.22 742.31 H 1431.02 M 1427.12 740.79 V 742.31" stroke="#4D4D4D" stroke-width="1.5" fill="none"/>
<text x="-0.89" y="0" font-size="19.76" fill="#595959" textLength="60.46" lengthAdjust="spacingAndGlyphs" transform="translate(1434.02 840.9) rotate(-90)" stroke="#595959" stroke-width="0.75">CATCC</text>
<rect x="1450.67" y="732.81" width="9" height="33.99" fill="#4472C4"/>
<path d="M 1451.27 731.77 H 1459.07 M 1451.27 733.86 H 1459.07 M 1455.17 731.77 V 733.86" stroke="#4D4D4D" stroke-width="1.5" fill="none"/>
<text x="-0.89" y="0" font-size="19.76" fill="#595959" textLength="64.36" lengthAdjust="spacingAndGlyphs" transform="translate(1462.07 844.8) rotate(-90)" stroke="#595959" stroke-width="0.75">CGCCC</text>
<rect x="1478.72" y="727.12" width="9" height="39.68" fill="#4472C4"/>
<path d="M 1479.32 726.36 H 1487.12 M 1479.32 727.88 H 1487.12 M 1483.22 726.36 V 727.88" stroke="#4D4D4D" stroke-width="1.5" fill="none"/>
<text x="-0.39" y="0" font-size="19.76" fill="#595959" textLength="58.51" lengthAdjust="spacingAndGlyphs" transform="translate(1490.12 839.44) rotate(-90)" stroke="#595959" stroke-width="0.75">TATCC</text>
<rect x="1506.76" y="726.55" width="9" height="40.25" fill="#4472C4"/>
<path d="M 1507.36 725.79 H 1515.16 M 1507.36 727.31 H 1515.16 M 1511.26 725.79 V 727.31" stroke="#4D4D4D" stroke-width="1.5" fill="none"/>
<text x="-0.89" y="0" font-size="19.76" fill="#595959" textLength="60.46" lengthAdjust="spacingAndGlyphs" transform="translate(1518.16 841.17) rotate(-90)" stroke="#595959" stroke-width="0.75">CACCT</text>
<rect x="1534.81" y="722.37" width="9" height="44.43" fill="#4472C4"/>
<path d="M 1535.41 721.23 H 1543.21 M 1535.41 723.51 H 1543.21 M 1539.31 721.23 V 723.51" stroke="#4D4D4D" stroke-width="1.5" fill="none"/>
<text x="-0.89" y="0" font-size="19.76" fill="#595959" textLength="62.41" lengthAdjust="spacingAndGlyphs" transform="translate(1546.21 842.85) rotate(-90)" stroke="#595959" stroke-width="0.75">CGTCC</text>
<rect x="1562.86" y="723.51" width="9" height="43.29" fill="#4472C4"/>
<path d="M 1563.46 722.75 H 1571.26 M 1563.46 724.27 H 1571.26 M 1567.36 722.75 V 724.27" stroke="#4D4D4D" stroke-width="1.5" fill="none"/>
<text x="-0.39" y="0" font-size="19.76" fill="#595959" textLength="58.51" lengthAdjust="spacingAndGlyphs" transform="translate(1574.26 839.71) rotate(-90)" stroke="#595959" stroke-width="0.75">TACCT</text>
<rect x="1590.9" y="704.52" width="9" height="62.28" fill="#4472C4"/>
<path d="M 1591.5 703.76 H 1599.3 M 1591.5 705.28 H 1599.3 M 1595.4 703.76 V 705.28" stroke="#4D4D4D" stroke-width="1.5" fill="none"/>
<text x="-0.89" y="0" font-size="19.76" fill="#595959" textLength="62.41" lengthAdjust="spacingAndGlyphs" transform="translate(1602.3 842.85) rotate(-90)" stroke="#595959" stroke-width="0.75">CGCTC</text>
<rect x="1618.95" y="698.82" width="9" height="67.98" fill="#4472C4"/>
<path d="M 1619.55 697.12 H 1627.35 M 1619.55 700.53 H 1627.35 M 1623.45 697.12 V 700.53" stroke="#4D4D4D" stroke-width="1.5" fill="none"/>
<text x="-0.39" y="0" font-size="19.76" fill="#595959" textLength="62.41" lengthAdjust="spacingAndGlyphs" transform="translate(1630.35 843.34) rotate(-90)" stroke="#595959" stroke-width="0.75">TGCCC</text>
<rect x="1647" y="695.98" width="9" height="70.82" fill="#4472C4"/>
<path d="M 1647.6 694.27 H 1655.4 M 1647.6 697.69 H 1655.4 M 1651.5 694.27 V 697.69" stroke="#4D4D4D" stroke-width="1.5" fill="none"/>
<text x="-0.39" y="0" font-size="19.76" fill="#595959" textLength="56.55" lengthAdjust="spacingAndGlyphs" transform="translate(1658.4 837.75) rotate(-90)" stroke="#595959" stroke-width="0.75">TATCT</text>
<rect x="1675.04" y="687.43" width="9" height="79.37" fill="#4472C4"/>
<path d="M 1675.64 686.67 H 1683.44 M 1675.64 688.19 H 1683.44 M 1679.54 686.67 V 688.19" stroke="#4D4D4D" stroke-width="1.5" fill="none"/>
<text x="-0.39" y="0" font-size="19.76" fill="#595959" textLength="60.45" lengthAdjust="spacingAndGlyphs" transform="translate(1686.44 841.65) rotate(-90)" stroke="#595959" stroke-width="0.75">TGCCT</text>
<rect x="1703.09" y="688" width="9" height="78.8" fill="#4472C4"/>
<path d="M 1703.69 687.24 H 1711.49 M 1703.69 688.76 H 1711.49 M 1707.59 687.24 V 688.76" stroke="#4D4D4D" stroke-width="1.5" fill="none"/>
<text x="-0.39" y="0" font-size="19.76" fill="#595959" textLength="60.45" lengthAdjust="spacingAndGlyphs" transform="translate(1714.49 841.39) rotate(-90)" stroke="#595959" stroke-width="0.75">TGTCC</text>
<rect x="1731.14" y="684.39" width="9" height="82.41" fill="#4472C4"/>
<path d="M 1731.74 682.12 H 1739.54 M 1731.74 686.67 H 1739.54 M 1735.64 682.12 V 686.67" stroke="#4D4D4D" stroke-width="1.5" fill="none"/>
<text x="-0.89" y="0" font-size="19.76" fill="#595959" textLength="58.51" lengthAdjust="spacingAndGlyphs" transform="translate(1742.54 839.21) rotate(-90)" stroke="#595959" stroke-width="0.75">CATCT</text>
<rect x="1759.18" y="670.72" width="9" height="96.08" fill="#4472C4"/>
<path d="M 1759.78 669.77 H 1767.58 M 1759.78 671.67 H 1767.58 M 1763.68 669.77 V 671.67" stroke="#4D4D4D" stroke-width="1.5" fill="none"/>
<text x="-0.89" y="0" font-size="19.76" fill="#595959" textLength="60.45" lengthAdjust="spacingAndGlyphs" transform="translate(1770.58 841.16) rotate(-90)" stroke="#595959" stroke-width="0.75">CGTCT</text>
<rect x="1787.23" y="669.39" width="9" height="97.41" fill="#4472C4"/>
<path d="M 1787.83 668.44 H 1795.63 M 1787.83 670.34 H 1795.63 M 1791.73 668.44 V 670.34" stroke="#4D4D4D" stroke-width="1.5" fill="none"/>
<text x="-0.89" y="0" font-size="19.76" fill="#595959" textLength="62.41" lengthAdjust="spacingAndGlyphs" transform="translate(1798.63 843.11) rotate(-90)" stroke="#595959" stroke-width="0.75">CGCCT</text>
<rect x="1815.28" y="669.39" width="9" height="97.41" fill="#4472C4"/>
<path d="M 1815.88 666.36 H 1823.68 M 1815.88 672.43 H 1823.68 M 1819.78 666.36 V 672.43" stroke="#4D4D4D" stroke-width="1.5" fill="none"/>
<text x="-0.39" y="0" font-size="19.76" fill="#595959" textLength="60.45" lengthAdjust="spacingAndGlyphs" transform="translate(1826.68 841.39) rotate(-90)" stroke="#595959" stroke-width="0.75">TGCTC</text>
<g transform="matrix(0.66 0 0 0.63 810.8 495.7)"><path d="M 353.6 45.5 L 353.6 318 A 30 30.5 0 0 0 413.7 318 L 413.7 124.5 L 413.3 124.5 A 73.3 73.3 0 0 1 475 90.8 A 63.95 63.95 0 0 1 529.6 122.3" fill="none" stroke="#B8B8B8" stroke-width="10.2" stroke-linejoin="round"/><path d="M 530.4 121.5 L 530.4 313 A 24.85 27.5 0 0 1 480.9 313 L 480.9 52" fill="none" stroke="#B8B8B8" stroke-width="10.2"/><line x1="415" y1="158.9" x2="480.9" y2="132.4" stroke="#D6D6D6" stroke-width="11.16"/><line x1="354.4" y1="163.9" x2="530.6" y2="174.5" stroke="#B8B8B8" stroke-width="12"/><line x1="355.2" y1="210.4" x2="532" y2="217.9" stroke="#B8B8B8" stroke-width="12"/><line x1="355.2" y1="259.4" x2="532" y2="267.5" stroke="#B8B8B8" stroke-width="12"/><line x1="414.9" y1="207.6" x2="480.6" y2="180.4" stroke="#B8B8B8" stroke-width="11.16"/><line x1="414.9" y1="254.7" x2="478.4" y2="228.4" stroke="#B8B8B8" stroke-width="11.16"/><line x1="414" y1="298.1" x2="481.5" y2="269.4" stroke="#B8B8B8" stroke-width="11.16"/><ellipse cx="353.6" cy="66.4" rx="7.6" ry="5.7" fill="#F01AD8"/><ellipse cx="354.6" cy="91.7" rx="7.6" ry="5.7" fill="#FFC000"/><ellipse cx="354.4" cy="117.9" rx="7.6" ry="5.7" fill="#548235"/><ellipse cx="354.6" cy="138.7" rx="7.6" ry="5.7" fill="#F01AD8"/><ellipse cx="354.4" cy="162" rx="7.6" ry="5.7" fill="#F01AD8"/><ellipse cx="355.2" cy="209.2" rx="7.6" ry="5.7" fill="#F01AD8"/><ellipse cx="355.2" cy="258.2" rx="7.6" ry="5.7" fill="#F01AD8"/><ellipse cx="354.4" cy="279.5" rx="7.6" ry="5.7" fill="#548235"/><ellipse cx="354.4" cy="301" rx="7.6" ry="5.7" fill="#F01AD8"/><ellipse cx="357.1" cy="319.8" rx="7.6" ry="5.7" fill="#0070C0"/><ellipse cx="363.8" cy="335.3" rx="7.6" ry="5.7" fill="#F01AD8"/><ellipse cx="379.6" cy="347.9" rx="7.6" ry="5.7" fill="#F01AD8"/><ellipse cx="399.9" cy="343.9" rx="7.6" ry="5.7" fill="#F01AD8"/><ellipse cx="412.7" cy="328.4" rx="7.6" ry="5.7" fill="#548235"/><ellipse cx="413.4" cy="312.8" rx="7.6" ry="5.7" fill="#F01AD8"/><ellipse cx="414.2" cy="295.3" rx="7.6" ry="5.7" fill="#F01AD8"/><ellipse cx="414.9" cy="251.4" rx="7.6" ry="5.7" fill="#F01AD8"/><ellipse cx="414.9" cy="203.1" rx="7.6" ry="5.7" fill="#F01AD8"/><ellipse cx="415" cy="155.1" rx="7.6" ry="5.7" fill="#F01AD8"/><ellipse cx="413.6" cy="124.3" rx="7.6" ry="5.7" fill="#0070C0"/><ellipse cx="442.8" cy="98.5" rx="7.6" ry="5.7" fill="#0070C0"/><ellipse cx="489" cy="92.5" rx="7.6" ry="5.7" fill="#F01AD8"/><ellipse cx="523.7" cy="113.3" rx="7.6" ry="5.7" fill="#F01AD8"/><ellipse cx="532.3" cy="145.3" rx="7.6" ry="5.7" fill="#0070C0"/><ellipse cx="531" cy="173" rx="7.6" ry="5.7" fill="#F01AD8"/><ellipse cx="532" cy="217.5" rx="7.6" ry="5.7" fill="#F01AD8"/><ellipse cx="532" cy="268.4" rx="7.6" ry="5.7" fill="#F01AD8"/><ellipse cx="531" cy="293.1" rx="7.6" ry="5.7" fill="#548235"/><ellipse cx="530.7" cy="314.3" rx="7.6" ry="5.7" fill="#F01AD8"/><ellipse cx="523.9" cy="331.8" rx="7.6" ry="5.7" fill="#548235"/><ellipse cx="505.1" cy="339.4" rx="7.6" ry="5.7" fill="#F01AD8"/><ellipse cx="487.5" cy="327.8" rx="7.6" ry="5.7" fill="#F01AD8"/><ellipse cx="481.1" cy="307.8" rx="7.6" ry="5.7" fill="#F01AD8"/><ellipse cx="481" cy="290" rx="7.6" ry="5.7" fill="#548235"/><ellipse cx="481.5" cy="271.2" rx="7.6" ry="5.7" fill="#F01AD8"/><ellipse cx="478.4" cy="226.2" rx="7.6" ry="5.7" fill="#F01AD8"/><ellipse cx="480.6" cy="181.5" rx="7.6" ry="5.7" fill="#F01AD8"/><ellipse cx="480.9" cy="129.1" rx="7.6" ry="5.7" fill="#F01AD8"/><ellipse cx="480.9" cy="106.6" rx="7.6" ry="5.7" fill="#0070C0"/></g>
<text x="1031.53" y="516.3" font-size="26.16" font-weight="bold" textLength="25.02" lengthAdjust="spacingAndGlyphs">5′</text>
<text x="1117.68" y="520" font-size="25.06" font-weight="bold" textLength="24.87" lengthAdjust="spacingAndGlyphs">3′</text>
<text x="1398.78" y="565.5" font-size="22.53" font-weight="bold" textLength="35.37" lengthAdjust="spacingAndGlyphs">WT</text>
<text x="1442.34" y="565.5" font-size="22.53" font-weight="bold" font-style="italic" textLength="53.07" lengthAdjust="spacingAndGlyphs">BCL2</text>
<line x1="1457.5" y1="576.2" x2="1457" y2="696.6" stroke="#000" stroke-width="1.1"/>
<path d="M 1451.4 695.6 L 1462.4 695.6 L 1456.9 706.3 Z" fill="#000"/>
<text x="1450.31" y="736.1" font-size="33.86" font-weight="bold" textLength="12.42" lengthAdjust="spacingAndGlyphs">*</text>
<text x="1171.68" y="706.5" font-size="33.29" font-weight="bold" textLength="138.28" lengthAdjust="spacingAndGlyphs">Mutation</text>
<text x="1122.27" y="736.6" font-size="20.34" font-weight="bold" textLength="226.16" lengthAdjust="spacingAndGlyphs">(between C29 and C33)</text>
</svg>
</body></html>
